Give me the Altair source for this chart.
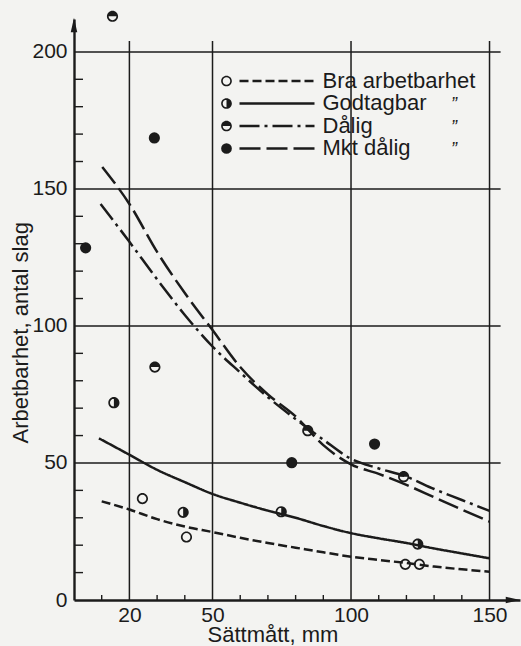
import altair as alt
import pandas as pd

# ---------------- data ----------------
classes = ["Bra", "Godtagbar", "Dålig", "Mkt dålig"]
legend_labels = ["Bra arbetbarhet", "Godtagbar", "Dålig", "Mkt dålig"]

# measured points
bra_x = [24.7, 40.6, 119.6, 124.7]
bra_y = [37.0, 23.0, 13.0, 13.0]
god_x = [14.4, 39.4, 74.8, 124.1]
god_y = [72.0, 32.0, 32.2, 20.4]
dal_x = [13.9, 29.2, 84.4, 119.0]
dal_y = [213.0, 85.0, 61.8, 45.0]
mkt_x = [4.2, 29.0, 78.6, 108.5]
mkt_y = [128.5, 168.6, 50.1, 56.9]

# fitted curves
bra_cx = [10, 20, 30, 40, 50, 60, 70, 80, 90, 100, 110, 120, 130, 140, 150]
bra_cy = [36, 33, 29.5, 26.8, 24.8, 22.7, 20.8, 19.1, 17.4, 15.8, 14.6, 13.5, 12.2, 11.2, 10.3]
god_cx = [9, 20, 30, 40, 50, 60, 70, 80, 90, 100, 110, 120, 130, 140, 150]
god_cy = [59, 53, 47.5, 43, 38.7, 35.5, 32.6, 30, 27, 24.4, 22.5, 20.8, 18.8, 17, 15.2]
dal_cx = [9.6, 20, 30, 40, 50, 60, 70, 80, 90, 100, 110, 120, 130, 140, 150]
dal_cy = [144.5, 130.7, 117, 104, 92.5, 83, 74, 66, 58.5, 51.5, 48, 45, 40.5, 36.5, 32.5]
mkt_cx = [10.2, 20, 30, 40, 50, 60, 70, 80, 90, 100, 110, 120, 130, 140, 150]
mkt_cy = [158, 144.5, 127, 112, 98.5, 85, 75, 67, 56.5, 49.5, 46, 42, 37.5, 33, 28.6]

x_ticks = [20, 50, 100, 150]
y_ticks = [0, 50, 100, 150, 200]
x_minor = [10, 30, 40, 60, 70, 80, 90, 110, 120, 130, 140]
y_minor = [10, 20, 30, 40, 60, 70, 80, 90, 110, 120, 130, 140, 160, 170, 180, 190]
grid_x = [20, 50, 100, 150]
grid_y = [50, 100, 150, 200]

# ---------------- tables ----------------
pts = pd.concat([
    pd.DataFrame({"x": xs, "y": ys, "cls": c})
    for xs, ys, c in [(bra_x, bra_y, "Bra"), (god_x, god_y, "Godtagbar"),
                      (dal_x, dal_y, "Dålig"), (mkt_x, mkt_y, "Mkt dålig")]
])
curves = pd.concat([
    pd.DataFrame({"x": xs, "y": ys, "cls": c})
    for xs, ys, c in [(bra_cx, bra_cy, "Bra"), (god_cx, god_cy, "Godtagbar"),
                      (dal_cx, dal_cy, "Dålig"), (mkt_cx, mkt_cy, "Mkt dålig")]
])
leg = pd.DataFrame({"cls": classes, "label": legend_labels,
                    "row": list(range(len(classes))),
                    "ditto": ["", "\u201d", "\u201d", "\u201d"]})

# ---------------- styling ----------------
W, H = 446, 581
INK = "#1b1b1b"
FONT = "Liberation Sans"

ring = ("M1,0 A1,1 0 1,1 -1,0 A1,1 0 1,1 1,0 Z "
        "M0.7,0 A0.7,0.7 0 1,0 -0.7,0 A0.7,0.7 0 1,0 0.7,0 Z")
right_half = ring + " M0,-1 A1,1 0 0,1 0,1 Z"
top_half = ring + " M-1,0 A1,1 0 0,1 1,0 Z"
shape_scale = alt.Scale(domain=classes, range=[ring, right_half, top_half, "circle"])
dash_scale = alt.Scale(domain=classes, range=[[9, 4], [1, 0], [20, 5, 3, 5], [21, 6]])

xs = alt.Scale(domain=[0, 161], nice=False, zero=False)
ys = alt.Scale(domain=[0, 212], nice=False, zero=False)

# axes (labels + domain line)
base_axes = alt.Chart(pd.DataFrame({"x": [0]})).mark_point(opacity=0).encode(
    x=alt.X("x:Q", scale=xs,
            axis=alt.Axis(values=x_ticks, title="Sättmått, mm", grid=False, ticks=False,
                          domainColor=INK, domainWidth=2.4, labelFont=FONT, labelFontSize=21,
                          labelColor=INK, labelPadding=4, labelFlush=False,
                          titleFont=FONT, titleFontSize=22, titleFontWeight="normal",
                          titleColor=INK, titleAlign="left", titleX=133, titleY=41,
                          titleBaseline="alphabetic")),
    y=alt.Y("x:Q", scale=ys,
            axis=alt.Axis(values=y_ticks, title="Arbetbarhet, antal slag", grid=False, ticks=False,
                          domainColor=INK, domainWidth=2.4, labelFont=FONT, labelFontSize=21,
                          labelColor=INK, labelPadding=7, labelFlush=False,
                          titleFont=FONT, titleFontSize=22, titleFontWeight="normal",
                          titleColor=INK, titleAngle=-90, titleAlign="left", titleX=-47,
                          titleY=424, titleBaseline="alphabetic")),
)

grid_v = alt.Chart(pd.DataFrame({"g": grid_x})).mark_rule(color=INK, strokeWidth=1.5).encode(
    x=alt.X("g:Q", scale=xs), y=alt.datum(0), y2=alt.datum(204))
grid_h = alt.Chart(pd.DataFrame({"g": grid_y})).mark_rule(color=INK, strokeWidth=1.5).encode(
    y=alt.Y("g:Q", scale=ys), x=alt.datum(0), x2=alt.datum(154))

minor_x = alt.Chart(pd.DataFrame({"v": x_minor})).mark_rule(color=INK, strokeWidth=1.4).encode(
    x=alt.X("v:Q", scale=xs), y=alt.value(H), y2=alt.value(H - 5))
minor_y = alt.Chart(pd.DataFrame({"v": y_minor})).mark_rule(color=INK, strokeWidth=1.4).encode(
    y=alt.Y("v:Q", scale=ys), x=alt.value(0), x2=alt.value(9))

arrow_df = pd.DataFrame({"a": ["x", "y"]})
arrow_up = alt.Chart(arrow_df).transform_filter("datum.a == 'y'").mark_point(
    shape="M0,-1 L0.45,1 L-0.45,1 Z", filled=True, color=INK, size=210, opacity=1).encode(
    x=alt.value(0), y=alt.value(6))
arrow_right = alt.Chart(arrow_df).transform_filter("datum.a == 'x'").mark_point(
    shape="M1,0 L-1,0.45 L-1,-0.45 Z", filled=True, color=INK, size=210, opacity=1).encode(
    x=alt.value(W - 7), y=alt.value(H))

lines = alt.Chart(curves).mark_line(interpolate="monotone", strokeWidth=2.5, color=INK).encode(
    x=alt.X("x:Q", scale=xs), y=alt.Y("y:Q", scale=ys),
    strokeDash=alt.StrokeDash("cls:N", scale=dash_scale, legend=None),
    detail="cls:N")

points = alt.Chart(pts).mark_point(filled=True, color=INK, size=125, opacity=1, strokeWidth=0).encode(
    x=alt.X("x:Q", scale=xs), y=alt.Y("y:Q", scale=ys),
    shape=alt.Shape("cls:N", scale=shape_scale, legend=None))

# hand-drawn legend inside the plot
leg_base = alt.Chart(leg).transform_calculate(py="62 + 22.5 * datum.row", ty="68.5 + 22.5 * datum.row")
leg_mark = leg_base.mark_point(filled=True, color=INK, size=115, opacity=1, strokeWidth=0).encode(
    x=alt.value(152.5), y=alt.Y("py:Q", scale=None),
    shape=alt.Shape("cls:N", scale=shape_scale, legend=None))
leg_line = leg_base.mark_rule(color=INK, strokeWidth=2.5).encode(
    x=alt.value(165.5), x2=alt.value(240.5), y=alt.Y("py:Q", scale=None),
    strokeDash=alt.StrokeDash("cls:N", scale=dash_scale, legend=None))
leg_text = leg_base.mark_text(align="left", baseline="alphabetic", font=FONT, fontSize=22,
                              color=INK).encode(
    x=alt.value(248.5), y=alt.Y("ty:Q", scale=None), text="label:N")
leg_ditto = leg_base.mark_text(align="left", baseline="alphabetic", font=FONT, fontSize=18,
                               fontStyle="italic", color=INK).encode(
    x=alt.value(377), y=alt.Y("ty:Q", scale=None), text="ditto:N")

chart = alt.layer(
    base_axes, grid_v, grid_h, minor_x, minor_y, lines, points,
    leg_line, leg_mark, leg_text, leg_ditto, arrow_up, arrow_right
).properties(
    width=W, height=H, background="#f3f3f1",
    padding={"left": 74, "top": 19, "right": 1, "bottom": 46},
    autosize=alt.AutoSizeParams(type="none"),
).configure_view(stroke=None)

chart.save("out.html", embed_options={"renderer": "svg", "actions": False})
